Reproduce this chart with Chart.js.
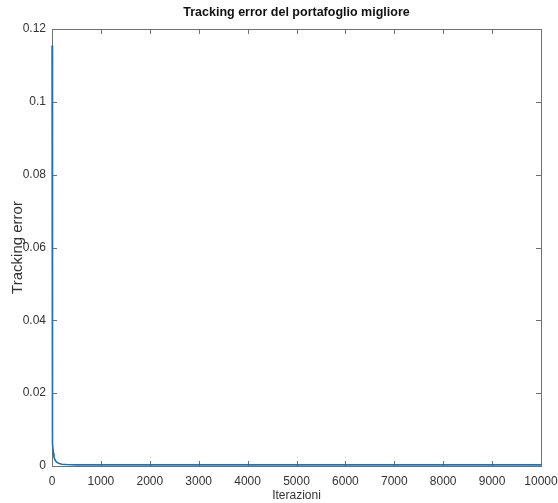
<!DOCTYPE html>
<html>
<head>
<meta charset="utf-8">
<script src="https://cdn.jsdelivr.net/npm/chart.js@4.4.1/dist/chart.umd.min.js"></script>
<style>
  html, body { margin: 0; padding: 0; background: #fff; }
  #wrap { width: 558px; height: 503px; }
</style>
</head>
<body>
<div id="wrap"><canvas id="teChart" width="558" height="503"></canvas></div>
<script>
// dati
var iterazioni = [1, 3, 5, 8, 10, 15, 20, 30, 40, 60, 80, 100, 150, 200, 300, 500, 1000, 2000, 3000, 4000, 5000, 6000, 7000, 8000, 9000, 10000];
var trackingErr = [0.1155, 0.06, 0.03, 0.018, 0.0145, 0.009, 0.006, 0.0035, 0.0025, 0.0017, 0.0013, 0.001, 0.0007, 0.0005, 0.0004, 0.0003, 0.0003, 0.0003, 0.0003, 0.0003, 0.0003, 0.0003, 0.0003, 0.0003, 0.0003, 0.0003];
var xTicks = [0, 1000, 2000, 3000, 4000, 5000, 6000, 7000, 8000, 9000, 10000];
var yTicks = [0, 0.02, 0.04, 0.06, 0.08, 0.1, 0.12];

var punti = iterazioni.map(function (it, i) {
    return { x: it, y: trackingErr[i] };
});

// riquadro e tacche interne stile MATLAB (disegnati sotto la linea)
var boxTicks = {
    id: 'boxTicks',
    beforeDatasetsDraw: function (chart) {
        var ctx = chart.ctx;
        var a = chart.chartArea;
        var sx = chart.scales.x;
        var sy = chart.scales.y;
        var len = 5;
        ctx.save();
        ctx.strokeStyle = '#707070';
        ctx.lineWidth = 1;
        ctx.beginPath();
        xTicks.forEach(function (v) {
            var px = Math.round(sx.getPixelForValue(v)) + 0.5;
            ctx.moveTo(px, a.bottom); ctx.lineTo(px, a.bottom - len);
            ctx.moveTo(px, a.top); ctx.lineTo(px, a.top + len);
        });
        yTicks.forEach(function (v) {
            var py = Math.round(sy.getPixelForValue(v)) + 0.5;
            ctx.moveTo(a.left, py); ctx.lineTo(a.left + len, py);
            ctx.moveTo(a.right, py); ctx.lineTo(a.right - len, py);
        });
        ctx.stroke();
        ctx.strokeRect(Math.round(a.left) + 0.5, Math.round(a.top) + 0.5,
            Math.round(a.right - a.left), Math.round(a.bottom - a.top));
        ctx.restore();
    }
};

var canvasElement = document.getElementById('teChart');
var config = {
    type: 'scatter',
    data: {
        datasets: [{
            label: 'Tracking error',
            data: punti,
            showLine: true,
            borderColor: '#1c74b8',
            borderWidth: 1.6,
            pointRadius: 0,
            fill: false,
            tension: 0,
            clip: false
        }]
    },
    options: {
        responsive: false,
        animation: false,
        layout: { padding: { left: 0, right: 0, top: 0, bottom: 0 } },
        plugins: {
            legend: { display: false },
            tooltip: { enabled: false },
            title: {
                display: true,
                text: 'Tracking error del portafoglio migliore',
                fullSize: false,
                color: '#111',
                font: { family: 'Liberation Sans, Arial, sans-serif', size: 12.5, weight: 'bold' },
                padding: { top: 5, bottom: 9 }
            }
        },
        scales: {
            x: {
                type: 'linear',
                min: 0,
                max: 10000,
                afterBuildTicks: function (scale) {
                    scale.ticks = xTicks.map(function (v) { return { value: v }; });
                },
                afterFit: function (scale) {
                    scale.height = 37;
                    scale.paddingLeft = 0;
                    scale.paddingRight = 17;
                },
                grid: { display: false, drawTicks: false },
                border: { display: false },
                ticks: {
                    padding: 8,
                    color: '#333',
                    maxRotation: 0,
                    font: { family: 'Liberation Sans, Arial, sans-serif', size: 12 },
                    callback: function (v) { return String(v); }
                },
                title: {
                    display: true,
                    text: 'Iterazioni',
                    color: '#333',
                    font: { family: 'Liberation Sans, Arial, sans-serif', size: 12 },
                    padding: { top: 0, bottom: 0 }
                }
            },
            y: {
                type: 'linear',
                min: 0,
                max: 0.12,
                afterBuildTicks: function (scale) {
                    scale.ticks = yTicks.map(function (v) { return { value: v }; });
                },
                afterFit: function (scale) {
                    scale.width = 52;
                    scale.paddingTop = 0;
                    scale.paddingBottom = 0;
                },
                grid: { display: false, drawTicks: false },
                border: { display: false },
                ticks: {
                    padding: 6,
                    color: '#333',
                    font: { family: 'Liberation Sans, Arial, sans-serif', size: 12 },
                    callback: function (v) { return String(v); }
                },
                title: {
                    display: true,
                    text: 'Tracking error',
                    color: '#333',
                    font: { family: 'Liberation Sans, Arial, sans-serif', size: 15 },
                    padding: { top: 9, bottom: 0 }
                }
            }
        }
    },
    plugins: [boxTicks]
};

var lineChart = new Chart(canvasElement, config);
</script>
</body>
</html>
